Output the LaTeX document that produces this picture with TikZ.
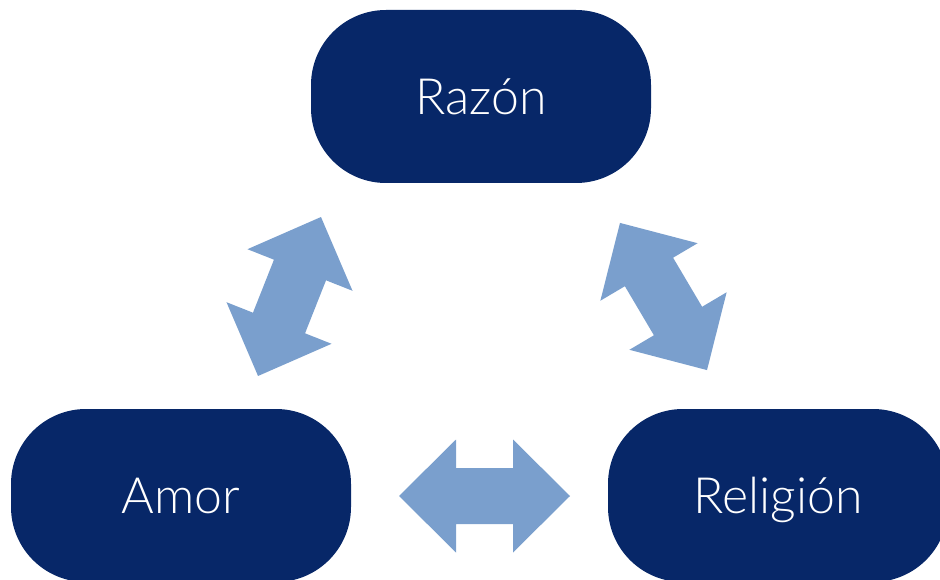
\documentclass[tikz,border=0pt]{standalone}
\usepackage{fontspec}
\setmainfont{Lato Light}
\definecolor{navy}{RGB}{7,39,104}
\definecolor{sky}{RGB}{122,159,205}
\begin{document}
\begin{tikzpicture}
    [
        concept/.style={rectangle, rounded corners=75pt, fill=navy, text=white,
            minimum width=340pt, minimum height=173pt, inner sep=0pt,
            text height=36pt, text depth=0pt,
            font=\fontsize{50}{60}\selectfont},
        link/.style={fill=sky},
        x=1pt, y=-1pt,
    ]
    \useasboundingbox (0,0) rectangle (940,580);
    \node (razon) at (481,96.5) [concept] {Razón};
    \node (amor) at (181,495.5) [concept] {Amor};
    \node (religion) at (778,495.5) [concept] {Religión};
    % double block arrows, tip to tip 171
    \coordinate (ar) at (289.5,296.5);
    \coordinate (rr) at (663.5,296.5);
    \coordinate (ae) at (484.5,496);
    \foreach \c/\a in {ar/68.4, rr/-59.4, ae/0}
        \fill [link, shift={(\c)}, rotate=\a]
            (-85.5,0) -- (-28.5,-56.5) -- (-28.5,-28) -- (28.5,-28) -- (28.5,-56.5)
            -- (85.5,0) -- (28.5,56.5) -- (28.5,28) -- (-28.5,28) -- (-28.5,56.5) -- cycle;
\end{tikzpicture}
\end{document}
